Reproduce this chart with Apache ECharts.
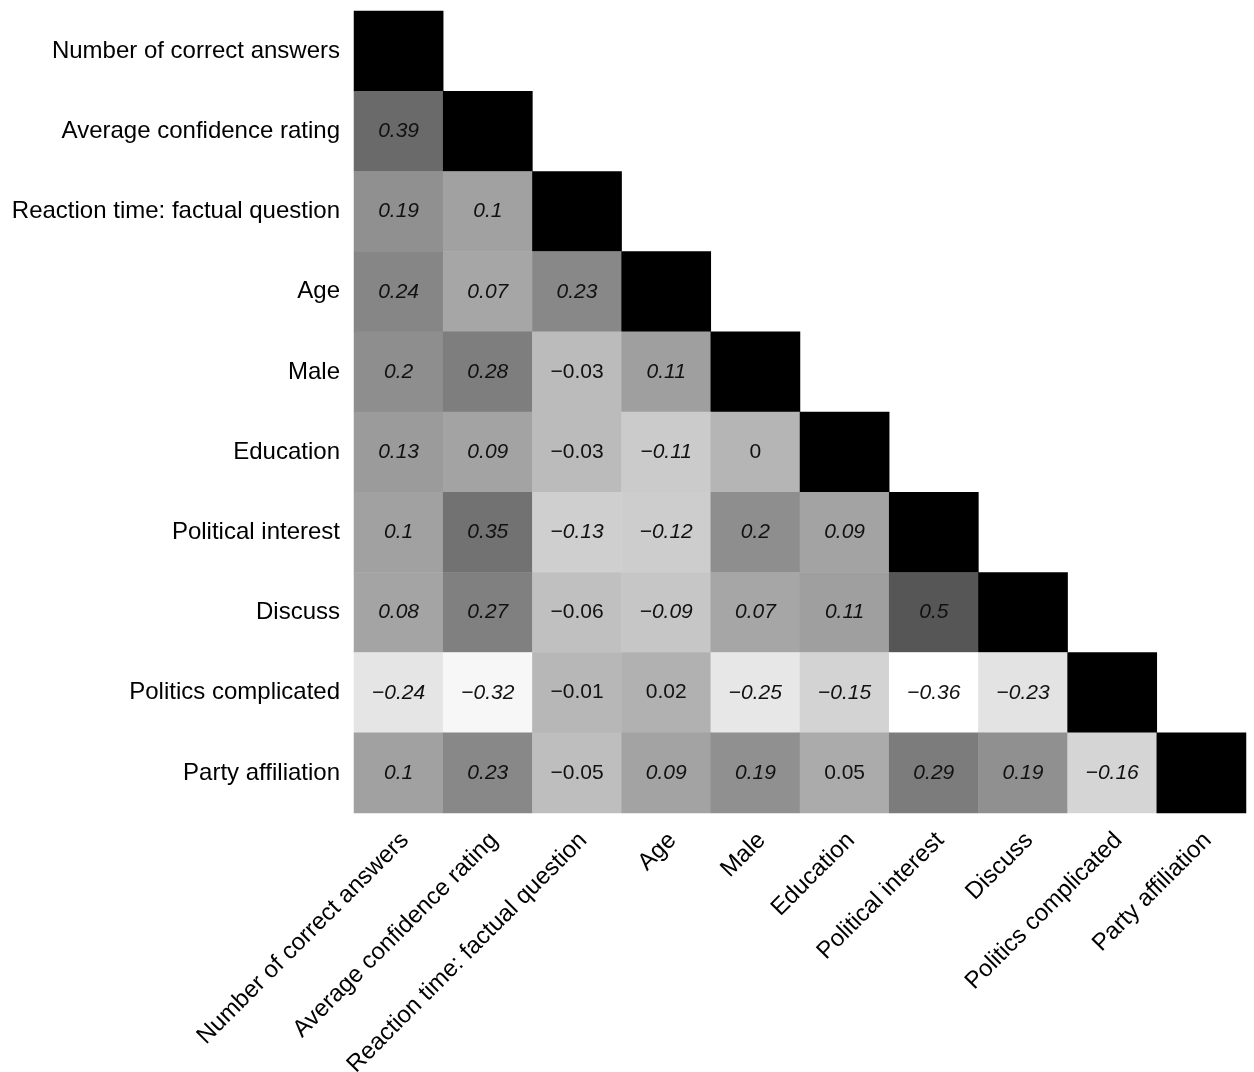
<!DOCTYPE html>
<html>
<head>
<meta charset="utf-8">
<script src="https://cdn.jsdelivr.net/npm/echarts@6/dist/echarts.min.js"></script>
<style>
  html, body { margin: 0; padding: 0; background: #fff; }
  #chart { width: 1254px; height: 1072px; }
</style>
</head>
<body>
<div id="chart"></div>
<script>
// Variables, in display order (top to bottom, left to right)
const variables = [
  'Number of correct answers',
  'Average confidence rating',
  'Reaction time: factual question',
  'Age',
  'Male',
  'Education',
  'Political interest',
  'Discuss',
  'Politics complicated',
  'Party affiliation'
];

// Lower-triangle correlations, one array per row (columns 0..row-1)
const corrAvgConfidence   = [0.39];
const corrReactionTime    = [0.19, 0.1];
const corrAge             = [0.24, 0.07, 0.23];
const corrMale            = [0.2, 0.28, -0.03, 0.11];
const corrEducation       = [0.13, 0.09, -0.03, -0.11, 0];
const corrPolInterest     = [0.1, 0.35, -0.13, -0.12, 0.2, 0.09];
const corrDiscuss         = [0.08, 0.27, -0.06, -0.09, 0.07, 0.11, 0.5];
const corrPolComplicated  = [-0.24, -0.32, -0.01, 0.02, -0.25, -0.15, -0.36, -0.23];
const corrParty           = [0.1, 0.23, -0.05, 0.09, 0.19, 0.05, 0.29, 0.19, -0.16];

// Significance flags (1 = significant, printed in italics)
const sigAvgConfidence    = [1];
const sigReactionTime     = [1, 1];
const sigAge              = [1, 1, 1];
const sigMale             = [1, 1, 0, 1];
const sigEducation        = [1, 1, 0, 1, 0];
const sigPolInterest      = [1, 1, 1, 1, 1, 1];
const sigDiscuss          = [1, 1, 0, 1, 1, 1, 1];
const sigPolComplicated   = [1, 1, 0, 0, 1, 1, 1, 1];
const sigParty            = [1, 1, 0, 1, 1, 0, 1, 1, 1];

const corrRows = [[], corrAvgConfidence, corrReactionTime, corrAge, corrMale,
  corrEducation, corrPolInterest, corrDiscuss, corrPolComplicated, corrParty];
const sigRows = [[], sigAvgConfidence, sigReactionTime, sigAge, sigMale,
  sigEducation, sigPolInterest, sigDiscuss, sigPolComplicated, sigParty];

// White-to-black ramp interpolated in CIE Lab lightness
function labGray(t) {
  const L = 100 * (1 - t);
  const fy = (L + 16) / 116;
  const d = 6 / 29;
  const Y = fy > d ? fy * fy * fy : 3 * d * d * (fy - 4 / 29);
  const c = Y <= 0.0031308 ? 12.92 * Y : 1.055 * Math.pow(Y, 1 / 2.4) - 0.055;
  const v = Math.max(0, Math.min(255, Math.round(c * 255)));
  const h = v.toString(16).padStart(2, '0');
  return '#' + h + h + h;
}
const rampColors = [];
for (let i = 0; i <= 40; i++) rampColors.push(labGray(i / 40));

// Build heatmap cells: lower triangle plus the diagonal
const cells = [];
let vMin = 1;
corrRows.forEach((row, r) => {
  row.forEach((v, c) => {
    vMin = Math.min(vMin, v);
    cells.push({
      value: [c, r, v],
      label: { show: true, fontStyle: sigRows[r][c] ? 'italic' : 'normal' }
    });
  });
  cells.push({ value: [r, r, 1], label: { show: false } });
});

const chart = echarts.init(document.getElementById('chart'), null, { renderer: 'canvas' });
chart.setOption({
  animation: false,
  backgroundColor: '#ffffff',
  textStyle: { fontFamily: '"Liberation Sans", Arial, sans-serif' },
  grid: { left: 354, right: 8, top: 11, bottom: 259, outerBoundsMode: 'none', containLabel: false },
  xAxis: {
    type: 'category',
    data: variables,
    axisLine: { show: false },
    axisTick: { show: false },
    splitLine: { show: false },
    axisLabel: {
      interval: 0,
      rotate: 45,
      margin: 30,
      padding: [0, -9, 0, 0],
      fontSize: 24,
      color: '#000'
    }
  },
  yAxis: {
    type: 'category',
    data: variables,
    inverse: true,
    axisLine: { show: false },
    axisTick: { show: false },
    splitLine: { show: false },
    axisLabel: {
      interval: 0,
      margin: 14,
      padding: [5, 0, 0, 0],
      fontSize: 24,
      color: '#000'
    }
  },
  visualMap: {
    type: 'continuous',
    show: false,
    min: vMin,
    max: 1,
    dimension: 2,
    inRange: { color: rampColors }
  },
  series: [{
    type: 'heatmap',
    data: cells,
    itemStyle: { borderWidth: 0 },
    label: {
      show: true,
      fontSize: 21,
      color: '#111',
      padding: [4, 0, 0, 0],
      formatter: p => String(p.value[2]).replace('-', '\u2212')
    },
    emphasis: { disabled: true }
  }]
});
</script>
</body>
</html>
